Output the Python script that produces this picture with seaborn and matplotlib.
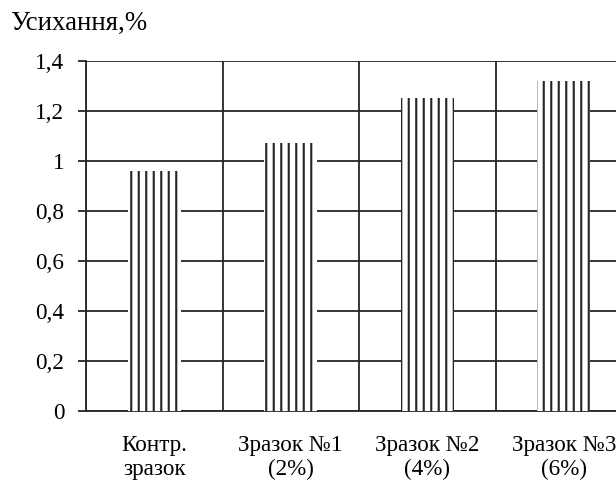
import matplotlib
matplotlib.use("Agg")
import matplotlib.pyplot as plt
import seaborn as sns
import pandas as pd
from matplotlib.ticker import FixedLocator

categories = ["Контр.\nзразок", "Зразок №1\n(2%)", "Зразок №2\n(4%)", "Зразок №3\n(6%)"]
shrinkage = [0.96, 1.07, 1.25, 1.32]
y_ticks = [0, 0.2, 0.4, 0.6, 0.8, 1.0, 1.2, 1.4]
y_tick_labels = ["0", "0,2", "0,4", "0,6", "0,8", "1", "1,2", "1,4"]
y_title = "Усихання,%"

sns.set_style("white")
plt.rcParams["font.family"] = ["Liberation Serif", "DejaVu Serif"]
plt.rcParams["hatch.linewidth"] = 1.7

INK = "#262626"
LW = 1.45
DPI = 90
fig = plt.figure(figsize=(616 / DPI, 486 / DPI), dpi=DPI)
ax = fig.add_axes([86 / 616, 75 / 486, 546 / 616, 350 / 486])

df = pd.DataFrame({"sample": categories, "value": shrinkage})
sns.barplot(data=df, x="sample", y="value", color="white", width=0.39,
            saturation=1, ax=ax, zorder=3)
for p in ax.patches:
    p.set_facecolor("white")
    p.set_edgecolor(INK)
    p.set_hatch("||")
    p.set_linewidth(0)

ax.set_xlim(-0.5, len(categories) - 0.5)
ax.set_ylim(0, 1.4)
ax.set_yticks(y_ticks)
ax.set_yticklabels(y_tick_labels)

# category dividers as minor ticks with vertical grid lines
ax.xaxis.set_minor_locator(FixedLocator([i - 0.5 for i in range(len(categories))]))
ax.grid(True, which="minor", axis="x", color=INK, linewidth=LW, zorder=1)
ax.grid(True, which="major", axis="y", color=INK, linewidth=LW, zorder=1)
ax.grid(False, which="major", axis="x")
ax.set_axisbelow(True)

ax.tick_params(axis="x", which="major", length=0, pad=19, labelsize=18.5, labelcolor="black")
ax.tick_params(axis="x", which="minor", length=6.5, width=LW, color=INK, direction="out")
ax.tick_params(axis="y", which="major", length=6.5, width=LW, color=INK, pad=11,
               labelsize=18.5, labelcolor="black", left=True)
for lbl in ax.get_xticklabels():
    lbl.set_linespacing(1.2)

for side in ["top", "right"]:
    ax.spines[side].set_visible(False)
for side in ["left", "bottom"]:
    ax.spines[side].set_color(INK)
    ax.spines[side].set_linewidth(LW)

ax.set_xlabel("")
ax.set_ylabel("")
fig.text(10 / 616, 1 - 23 / 486, y_title, ha="left", va="center", fontsize=21.5, color="black")

fig.savefig("out.png", dpi=DPI)
